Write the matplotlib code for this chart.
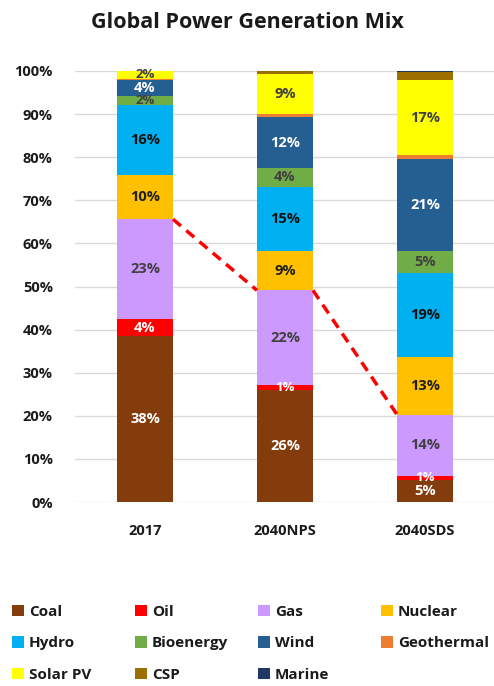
import matplotlib
matplotlib.use("Agg")
import matplotlib.pyplot as plt
import numpy as np
from matplotlib.patches import Patch

plt.rcParams['font.family'] = ['Open Sans', 'DejaVu Sans']

scenarios = ["2017", "2040NPS", "2040SDS"]
sources = ["Coal", "Oil", "Gas", "Nuclear", "Hydro", "Bioenergy", "Wind",
           "Geothermal", "Solar PV", "CSP", "Marine"]
coal = [38.4, 26.1, 5.2]
oil = [4.0, 1.0, 0.9]
gas = [23.2, 22.0, 14.2]
nuclear = [10.2, 9.1, 13.4]
hydro = [16.3, 15.0, 19.4]
bioenergy = [2.0, 4.2, 5.1]
wind = [3.7, 12.0, 21.3]
geothermal = [0.3, 0.7, 0.9]
solar_pv = [2.1, 9.2, 17.4]
csp = [0.0, 0.8, 2.0]
marine = [0.0, 0.1, 0.2]
series = [coal, oil, gas, nuclear, hydro, bioenergy, wind, geothermal, solar_pv, csp, marine]

colors = ["#843C0C", "#FF0000", "#CC99FF", "#FFC000", "#00B0F0", "#70AD47",
          "#255E91", "#ED7D31", "#FFFF00", "#9C7000", "#1F3864"]
label_colors = ["white", "white", "#404040", "#202020", "#101010", "#404040",
                "white", None, "#404040", None, None]

fig = plt.figure(figsize=(4.94, 6.86), dpi=100)
ax = fig.add_axes([75/494, 184/686, 420/494, 431/686])

x = np.arange(len(scenarios))
width = 0.4
bottom = np.zeros(len(scenarios))
tops_gas = None
for i, (name, vals) in enumerate(zip(sources, series)):
    vals = np.array(vals, dtype=float)
    ax.bar(x, vals, width, bottom=bottom, color=colors[i], zorder=3, linewidth=0)
    if label_colors[i] is not None:
        for j in range(len(x)):
            if vals[j] > 0:
                fs = 10.5 if vals[j] >= 3 else 9.5
                ax.text(x[j], bottom[j] + vals[j] / 2, f"{int(round(vals[j]))}%",
                        ha="center", va="center", fontsize=fs, fontweight="bold",
                        color=label_colors[i], zorder=5)
    bottom = bottom + vals
    if name == "Gas":
        tops_gas = bottom.copy()

# dashed series lines connecting gas tops
for j in range(len(x) - 1):
    ax.plot([x[j] + width / 2, x[j + 1] - width / 2], [tops_gas[j], tops_gas[j + 1]],
            color="#FF0000", linestyle=(0, (3, 2)), linewidth=2.5, zorder=4)

ax.set_xlim(-0.5, 2.5)
ax.set_ylim(0, 100)
ax.set_yticks(np.arange(0, 101, 10))
ax.set_yticklabels([f"{v}%" for v in range(0, 101, 10)])
ax.set_xticks(x)
ax.set_xticklabels(scenarios)
for lbl in ax.get_xticklabels() + ax.get_yticklabels():
    lbl.set_fontweight("bold")
    lbl.set_fontsize(10.5)
    lbl.set_color("#1a1a1a")
ax.tick_params(axis="both", length=0)
ax.tick_params(axis="y", pad=16)
ax.tick_params(axis="x", pad=16)
ax.grid(axis="y", color="#D9D9D9", linewidth=1, zorder=0)
for s in ax.spines.values():
    s.set_visible(False)

fig.text(0.5, 1 - 22/686, "Global Power Generation Mix", ha="center", va="center",
         fontsize=15.5, fontweight="bold", color="#1a1a1a")

handles = [Patch(facecolor=c, edgecolor="none", label=n) for n, c in zip(sources, colors)]
# legend laid out row-major in 4 evenly spaced columns
col_x = [6/494, 129/494, 252/494, 375/494]
for c in range(4):
    idx = [k for k in range(c, len(sources), 4)]
    leg = fig.legend([handles[k] for k in idx], [sources[k] for k in idx],
                     loc="upper left", bbox_to_anchor=(col_x[c], 1 - 599/686), ncol=1,
                     frameon=False, handlelength=0.75, handleheight=0.75,
                     handletextpad=0.35, labelspacing=1.13, borderaxespad=0.0,
                     prop={"weight": "bold", "size": 11})
    for t in leg.get_texts():
        t.set_color("#1a1a1a")

fig.savefig("out.png", dpi=100)
